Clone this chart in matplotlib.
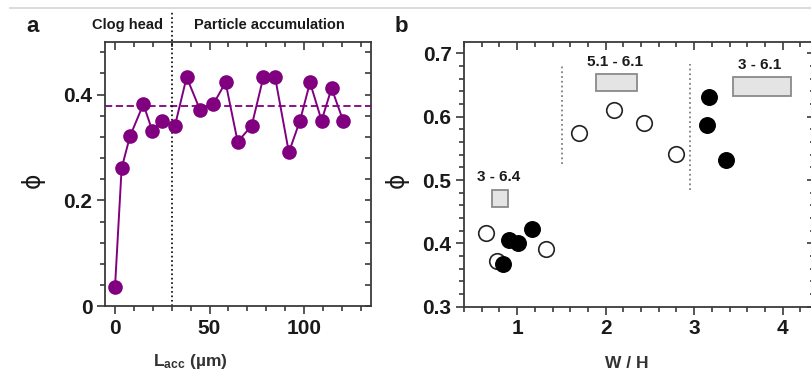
import matplotlib

matplotlib.use("Agg")

import matplotlib.pyplot as plt
from matplotlib.lines import Line2D
from matplotlib.patches import Rectangle
from matplotlib.ticker import MultipleLocator

plt.rcParams["font.family"] = ["Liberation Sans", "DejaVu Sans"]
plt.rcParams["font.weight"] = "bold"
plt.rcParams["mathtext.fontset"] = "custom"
plt.rcParams["mathtext.rm"] = "Liberation Sans:bold"
plt.rcParams["mathtext.bf"] = "Liberation Sans:bold"
plt.rcParams["mathtext.it"] = "Liberation Sans:bold"

# panel a: packing fraction along the accumulation length
lacc = [0, 3.5, 7.9, 15, 19.7, 25, 31.7, 37.9, 45, 52, 58.5, 64.9, 72.3,
        78.5, 84.7, 92, 97.9, 103.2, 109.3, 114.6, 120.7]
phi_a = [0.037, 0.261, 0.321, 0.382, 0.332, 0.351, 0.341, 0.433, 0.371,
         0.382, 0.423, 0.311, 0.341, 0.433, 0.433, 0.291, 0.351, 0.423,
         0.351, 0.412, 0.351]
phi_mean = 0.379
clog_end = 30

# panel b: packing fraction vs aspect ratio
open_wh = [0.65, 0.77, 1.33, 1.70, 2.10, 2.43, 2.80]
open_phi = [0.416, 0.372, 0.391, 0.574, 0.611, 0.590, 0.541]
filled_wh = [0.837, 0.905, 1.011, 1.17, 3.165, 3.147, 3.36]
filled_phi = [0.368, 0.406, 0.401, 0.422, 0.631, 0.587, 0.532]

# grey range boxes with their labels
box_x0 = [0.72, 1.89, 3.44]
box_x1 = [0.90, 2.36, 4.09]
box_y0 = [0.458, 0.640, 0.633]
box_y1 = [0.485, 0.667, 0.662]
box_labels = ["3 - 6.4", "5.1 - 6.1", "3 - 6.1"]

# dotted separators in panel b
sep_x = [1.51, 2.95]
sep_y0 = [0.526, 0.485]
sep_y1 = [0.683, 0.684]

SPINE = "#3a3a3a"
TXT = "#1a1a1a"


def _style(ax, right_minor_len):
    for s in ax.spines.values():
        s.set_color(SPINE)
        s.set_linewidth(1.3)
    ax.spines["top"].set_visible(False)
    ax.spines["right"].set_visible(False)
    ax.tick_params(which="major", direction="out", length=6, width=1.2,
                   color=SPINE, labelsize=15, labelcolor=TXT, pad=3)
    ax.tick_params(which="minor", direction="out", length=3.5, width=1.2,
                   color=SPINE)
    top = ax.secondary_xaxis("top")
    top.xaxis.set_major_locator(ax.xaxis.get_major_locator())
    top.xaxis.set_minor_locator(ax.xaxis.get_minor_locator())
    top.tick_params(which="major", direction="in", length=6, width=1.2,
                    color=SPINE, labeltop=False)
    top.tick_params(which="minor", direction="in", length=3.5, width=1.2,
                    color=SPINE)
    top.spines["top"].set_color(SPINE)
    top.spines["top"].set_linewidth(1.3)
    right = ax.secondary_yaxis("right")
    right.yaxis.set_major_locator(ax.yaxis.get_major_locator())
    right.yaxis.set_minor_locator(ax.yaxis.get_minor_locator())
    right.tick_params(which="major", direction="in", length=4, width=1.2,
                      color=SPINE, labelright=False)
    right.tick_params(which="minor", direction="in", length=right_minor_len,
                      width=1.2, color=SPINE)
    right.spines["right"].set_color(SPINE)
    right.spines["right"].set_linewidth(1.3)


fig = plt.figure(figsize=(8.11, 3.79), dpi=100)
fig.add_artist(Line2D([10 / 811, 1], [1 - 8 / 379] * 2, color="#d4d4d4",
                      lw=1.2))

# ---- panel a
ax = fig.add_axes([105 / 811, 1 - 306.3 / 379, 265.7 / 811, 264.6 / 379])
ax.set_xlim(-5.3, 135.3)
ax.set_ylim(0, 0.5)
ax.xaxis.set_major_locator(MultipleLocator(50))
ax.xaxis.set_minor_locator(MultipleLocator(10))
ax.yaxis.set_major_locator(MultipleLocator(0.2))
ax.yaxis.set_minor_locator(MultipleLocator(0.04))
ax.set_xticks([0, 50, 100], ["0", "50", "100"])
ax.set_yticks([0, 0.2, 0.4], ["0", "0.2", "0.4"])
_style(ax, 4)
ax.axhline(phi_mean, color="#800080", ls=(0, (4, 2)), lw=1.3)
ax.plot(lacc, phi_a, "-o", color="#800080", lw=1.4, ms=9.5, zorder=3)
ax.plot([clog_end, clog_end], [0, 0.557], color="black", ls=":", lw=1.2,
        clip_on=False)
ax.text(6.7, 0.532, "Clog head", ha="center", va="center", fontsize=10.5,
        color=TXT)
ax.text(81.5, 0.532, "Particle accumulation", ha="center", va="center",
        fontsize=10.5, color=TXT)

# ---- panel b
bx = fig.add_axes([464 / 811, 1 - 306.7 / 379, 348.7 / 811, 265 / 379])
bx.set_xlim(0.4, 4.34)
bx.set_ylim(0.3, 0.7185)
bx.xaxis.set_major_locator(MultipleLocator(1))
bx.xaxis.set_minor_locator(MultipleLocator(0.2))
bx.yaxis.set_major_locator(MultipleLocator(0.1))
bx.yaxis.set_minor_locator(MultipleLocator(0.02))
bx.set_xticks([1, 2, 3, 4], ["1", "2", "3", "4"])
bx.set_yticks([0.3, 0.4, 0.5, 0.6, 0.7],
              ["0.3", "0.4", "0.5", "0.6", "0.7"])
_style(bx, 2)
for x, y0, y1 in zip(sep_x, sep_y0, sep_y1):
    bx.plot([x, x], [y0, y1], color="#808080", ls=":", lw=1.3)
for x0, x1, y0, y1, lab in zip(box_x0, box_x1, box_y0, box_y1, box_labels):
    bx.add_patch(Rectangle((x0, y0), x1 - x0, y1 - y0, facecolor="#e4e4e4",
                           edgecolor="#8a8a8a", lw=1.3))
    bx.text((x0 + x1) / 2 - 0.02, y1 + 0.02, lab, ha="center",
            va="center", fontsize=11, color=TXT)
bx.scatter(open_wh, open_phi, s=125, facecolor="white", edgecolor="#222222",
           linewidth=1.2, zorder=3)
bx.scatter(filled_wh, filled_phi, s=125, facecolor="black",
           edgecolor="black", linewidth=1.0, zorder=4)

# panel letters and axis labels
fig.text(33 / 811, 1 - 27 / 379, "a", fontsize=16, ha="center", va="center",
         color=TXT)
fig.text(401 / 811, 1 - 27 / 379, "b", fontsize=16, ha="center",
         va="center", color=TXT)
for xp in (33, 397):
    fig.text(xp / 811, 1 - 180 / 379, "ϕ", fontsize=17, rotation=90,
             ha="center", va="center", family="DejaVu Sans",
             fontweight="normal", color=TXT)
fig.text(190.7 / 811, 1 - 361.7 / 379, r"$\mathbf{L_{acc}}$ (µm)",
         fontsize=12.5, ha="center", va="center", color="#333333")
fig.text(626.7 / 811, 1 - 363.3 / 379, "W / H", fontsize=12.5,
         ha="center", va="center", color="#333333")

fig.savefig("out.png", dpi=100)
plt.close(fig)
